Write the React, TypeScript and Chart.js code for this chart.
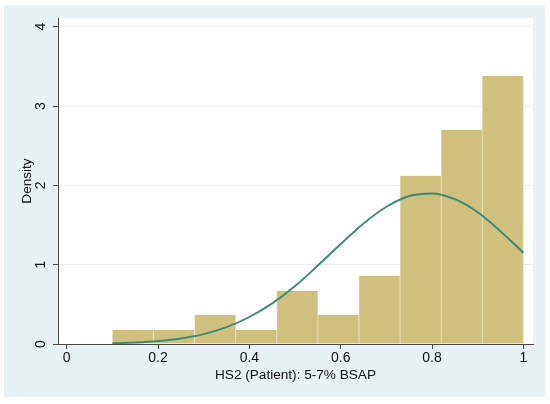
import React, { useEffect, useRef } from "react";
import { Chart, registerables } from "chart.js";

Chart.register(...registerables);

// Histogram bins (bin start), width 0.09
const binStarts = [0.1, 0.19, 0.28, 0.37, 0.46, 0.55, 0.64, 0.73, 0.82, 0.91];
const binWidth = 0.09;
const densities = [0.176, 0.176, 0.37, 0.176, 0.667, 0.37, 0.86, 2.12, 2.7, 3.38];

// Normal density curve
const curveX = [0.1, 0.15, 0.2, 0.25, 0.3, 0.35, 0.4, 0.45, 0.5, 0.55, 0.6, 0.65, 0.7, 0.75, 0.8, 0.85, 0.9, 0.95, 1.0];
const curveY = [0.009, 0.018, 0.037, 0.07, 0.125, 0.212, 0.34, 0.512, 0.73, 0.99, 1.26, 1.52, 1.73, 1.866, 1.898, 1.825, 1.66, 1.42, 1.15];

const xTicks = [0, 0.2, 0.4, 0.6, 0.8, 1];
const xTickLabels = ["0", "0.2", "0.4", "0.6", "0.8", "1"];
const yTicks = [0, 1, 2, 3, 4];
const yTickLabels = ["0", "1", "2", "3", "4"];

const xTitle = "HS2 (Patient): 5-7% BSAP";
const yTitle = "Density";

const FONT = "'Liberation Sans', Arial, sans-serif";
const TEXT = "#111111";
const AXIS = "#4a4a4a";

export default function App() {
  const ref = useRef<HTMLCanvasElement | null>(null);

  useEffect(() => {
    document.body.style.margin = "0";
    const canvas = ref.current;
    if (!canvas) return;

    const bgPlugin = {
      id: "bgPlugin",
      beforeDraw(chart: any) {
        const { ctx, chartArea } = chart;
        ctx.save();
        ctx.fillStyle = "#ffffff";
        ctx.fillRect(0, 0, chart.width, chart.height);
        ctx.fillStyle = "#e8f1f3";
        ctx.fillRect(4, 5, 541, 392);
        ctx.fillStyle = "#ffffff";
        ctx.fillRect(chartArea.left, chartArea.top, chartArea.right - chartArea.left, chartArea.bottom - chartArea.top);
        ctx.restore();
      },
      afterDraw(chart: any) {
        const { ctx } = chart;
        const ys = chart.scales.y;
        ctx.save();
        ctx.fillStyle = TEXT;
        ctx.font = `14px ${FONT}`;
        ctx.textAlign = "center";
        ctx.textBaseline = "middle";
        yTicks.forEach((v, i) => {
          const py = ys.getPixelForValue(v);
          ctx.save();
          ctx.translate(41, py);
          ctx.rotate(-Math.PI / 2);
          ctx.fillText(yTickLabels[i], 0, 0);
          ctx.restore();
        });
        ctx.restore();
      },
    };

    const chart = new Chart(canvas, {
      type: "bar",
      data: {
        datasets: [
          {
            type: "line",
            data: curveX.map((x, i) => ({ x, y: curveY[i] })),
            borderColor: "#3a8a78",
            borderWidth: 1.9,
            pointRadius: 0,
            cubicInterpolationMode: "monotone",
            fill: false,
            order: 0,
          } as any,
          {
            type: "bar",
            data: binStarts.map((s, i) => ({ x: s + binWidth / 2, y: densities[i] })),
            backgroundColor: "#d0c07e",
            borderColor: "#e9e2bb",
            borderWidth: { left: 0.8, right: 0.8, top: 0, bottom: 0 },
            borderSkipped: false,
            barPercentage: 1,
            categoryPercentage: 1,
            grouped: false,
            order: 1,
          } as any,
        ],
      },
      options: {
        animation: false,
        responsive: false,
        maintainAspectRatio: false,
        devicePixelRatio: 1,
        layout: { padding: { left: 0, top: 18, right: 17, bottom: 0 } },
        plugins: { legend: { display: false }, tooltip: { enabled: false } },
        scales: {
          x: {
            type: "linear",
            min: -0.019,
            max: 1.021,
            offset: false,
            afterFit(scale: any) {
              scale.height = 60;
            },
            afterBuildTicks(scale: any) {
              scale.ticks = xTicks.map((v) => ({ value: v }));
            },
            ticks: {
              callback: (v: any) => {
                const i = xTicks.findIndex((t) => Math.abs(t - Number(v)) < 1e-9);
                return i >= 0 ? xTickLabels[i] : "";
              },
              font: { family: FONT, size: 14 },
              color: TEXT,
              padding: 1,
              maxRotation: 0,
              minRotation: 0,
            },
            grid: { offset: false, drawOnChartArea: false, drawTicks: true, tickLength: 5, tickColor: AXIS, tickWidth: 1 },
            border: { display: true, color: AXIS, width: 1 },
            title: {
              display: true,
              text: xTitle,
              font: { family: FONT, size: 13.6 },
              color: TEXT,
              padding: { top: 0, bottom: 21 },
            },
          },
          y: {
            type: "linear",
            min: 0,
            max: 4.11,
            afterFit(scale: any) {
              scale.width = 58;
            },
            afterBuildTicks(scale: any) {
              scale.ticks = yTicks.map((v) => ({ value: v }));
            },
            ticks: { display: false },
            grid: {
              offset: false,
              drawOnChartArea: true,
              color: (c: any) => (c.tick && c.tick.value === 0 ? "rgba(0,0,0,0)" : "#e8eff1"),
              lineWidth: 1,
              drawTicks: true,
              tickLength: 5,
              tickColor: AXIS,
            },
            border: { display: true, color: AXIS, width: 1 },
            title: {
              display: true,
              text: yTitle,
              font: { family: FONT, size: 13.6 },
              color: TEXT,
              padding: { top: 19, bottom: 0 },
            },
          },
        },
      },
      plugins: [bgPlugin],
    });

    return () => chart.destroy();
  }, []);

  return (
    <div style={{ width: 550, height: 404 }}>
      <canvas ref={ref} width={550} height={404} style={{ display: "block", width: 550, height: 404 }} />
    </div>
  );
}
